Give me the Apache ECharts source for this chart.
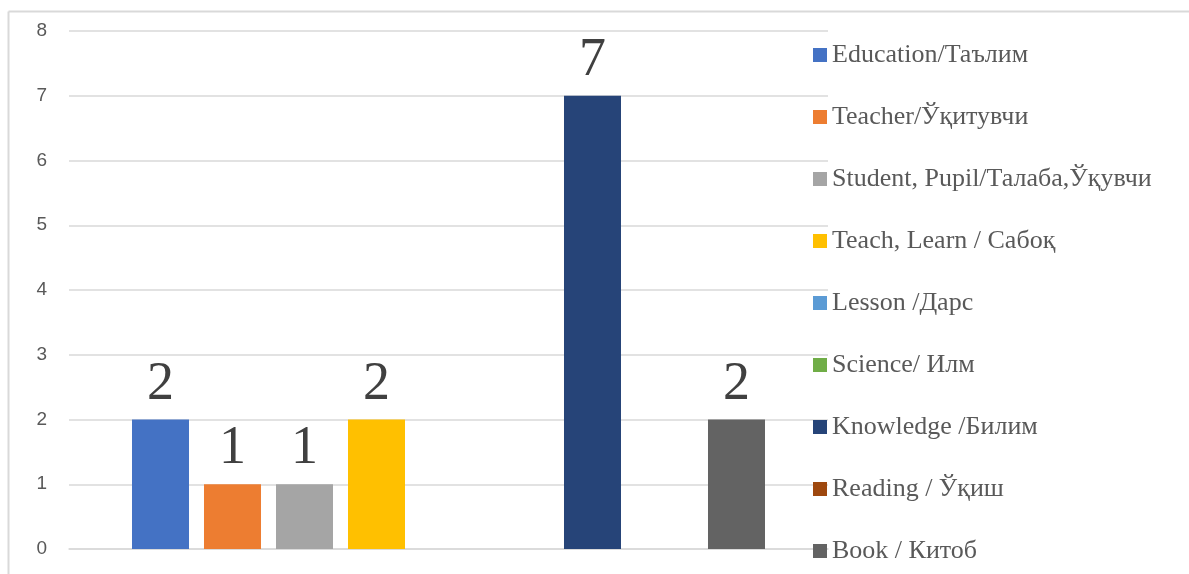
<!DOCTYPE html>
<html>
<head>
<meta charset="utf-8">
<script src="https://cdn.jsdelivr.net/npm/echarts@6/dist/echarts.min.js"></script>
<style>html,body{margin:0;padding:0;background:#fff;}#c{width:1189px;height:574px;}</style>
</head>
<body>
<div id="c"></div>
<script>
const seriesNames = ['Education/Таълим','Teacher/Ўқитувчи','Student, Pupil/Талаба,Ўқувчи','Teach, Learn / Сабоқ','Lesson /Дарс','Science/ Илм','Knowledge /Билим','Reading / Ўқиш','Book / Китоб'];
const seriesValues = [2,1,1,2,0,0,7,0,2];
const seriesColors = ['#4472C4','#ED7D31','#A5A5A5','#FFC000','#5B9BD5','#70AD47','#264478','#9E480E','#636363'];
const categories = [''];
const yTicks = [0,1,2,3,4,5,6,7,8];

const chart = echarts.init(document.getElementById('c'));
const series = seriesNames.map((n,i)=>({
  name:n, type:'bar', data:[seriesValues[i]],
  itemStyle:{color:seriesColors[i]},
  barGap:'26.3%', barCategoryGap:'16.6%',
  label:{show:true, position:'top', distance:8,
    fontFamily:'Liberation Serif', fontSize:54, color:'#404040',
    formatter:p=>p.value===0?'':String(p.value)}
}));
chart.setOption({
  animation:false,
  grid:{left:69,right:361,top:31,bottom:25,containLabel:false},
  xAxis:{type:'category',data:categories,axisLine:{show:true,lineStyle:{color:'#d9d9d9',width:1.5}},axisTick:{show:false},axisLabel:{show:false}},
  yAxis:{type:'value',min:yTicks[0],max:yTicks[yTicks.length-1],interval:1,
    axisLine:{show:false},axisTick:{show:false},
    axisLabel:{margin:22,fontFamily:'Liberation Sans',fontSize:19,color:'#595959'},
    splitLine:{lineStyle:{color:'#d9d9d9',width:1.5}}},
  legend:{orient:'vertical',left:808,top:36,itemWidth:14,itemHeight:14,itemGap:34,icon:'rect',
    textStyle:{fontFamily:'Liberation Serif',fontSize:26,color:'#595959',lineHeight:28}},
  graphic:[
    {type:'line',shape:{x1:8.5,y1:11.5,x2:1189,y2:11.5},style:{stroke:'#d9d9d9',lineWidth:2}},
    {type:'line',shape:{x1:8.5,y1:11.5,x2:8.5,y2:574},style:{stroke:'#d9d9d9',lineWidth:2}}
  ],
  series:series
});
</script>
</body>
</html>
